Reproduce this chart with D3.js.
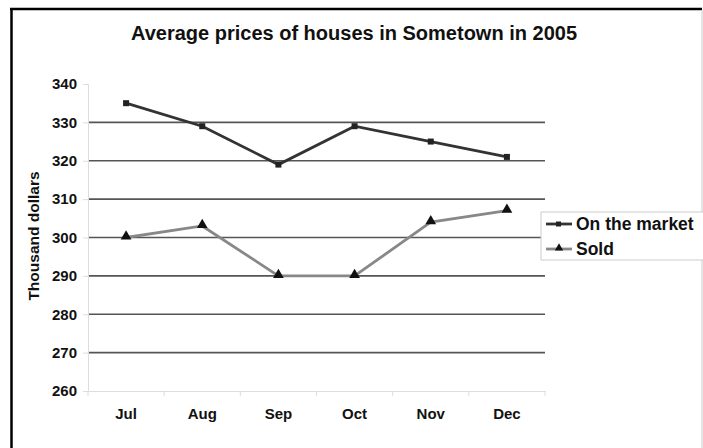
<!DOCTYPE html>
<html>
<head>
<meta charset="utf-8">
<script src="https://cdn.jsdelivr.net/npm/d3@7"></script>
<style>
  body { margin: 0; background: #fff; }
  text { font-family: "Liberation Sans", Arial, sans-serif; font-weight: bold; fill: #111; }
</style>
</head>
<body>
<div id="chart"></div>
<script>
const months = ["Jul", "Aug", "Sep", "Oct", "Nov", "Dec"];
const onMarket = [335, 329, 319, 329, 325, 321];
const sold = [300, 303, 290, 290, 304, 307];
const yTicks = [260, 270, 280, 290, 300, 310, 320, 330, 340];

const W = 703, H = 448;
const margin = { top: 84, left: 88, right: 158, bottom: 57 };
const width = W - margin.left - margin.right;   // plot width
const height = H - margin.top - margin.bottom;  // plot height

const svg = d3.select("#chart").append("svg")
    .attr("width", W)
    .attr("height", H);

// outer frame (black top/left, faint right)
svg.append("line").attr("x1", 10).attr("x2", 702).attr("y1", 9).attr("y2", 9)
    .attr("stroke", "#000").attr("stroke-width", 2.5);
svg.append("line").attr("x1", 11.5).attr("x2", 11.5).attr("y1", 8).attr("y2", H)
    .attr("stroke", "#000").attr("stroke-width", 2.5);
svg.append("line").attr("x1", 702).attr("x2", 702).attr("y1", 10).attr("y2", H)
    .attr("stroke", "#ccc").attr("stroke-width", 1);

svg.append("text")
    .attr("x", 354).attr("y", 40)
    .attr("text-anchor", "middle")
    .style("font-size", "20px")
    .text("Average prices of houses in Sometown in 2005");

// y axis title
svg.append("text")
    .attr("transform", "translate(39,236) rotate(-90)")
    .attr("text-anchor", "middle")
    .style("font-size", "15.5px")
    .text("Thousand dollars");

const g = svg.append("g").attr("transform", `translate(${margin.left},${margin.top})`);

const x = d3.scaleBand().domain(months).range([0, width]);
const y = d3.scaleLinear().domain([260, 340]).range([height, 0]);

// gridlines
g.selectAll(".grid")
    .data(yTicks.filter(d => d > 260 && d < 340))
    .enter().append("line")
    .attr("x1", 0).attr("x2", width)
    .attr("y1", d => y(d)).attr("y2", d => y(d))
    .attr("stroke", "#555").attr("stroke-width", 1.6);

const fontAxis = sel => sel.style("font-size", "15px")
    .style("font-family", "Liberation Sans, Arial, sans-serif")
    .style("font-weight", "bold").attr("fill", "#111");

// y axis
const yAxis = g.append("g")
    .call(d3.axisLeft(y).tickValues(yTicks).tickSize(5).tickPadding(6));
yAxis.select(".domain").attr("stroke", "#ddd");
yAxis.selectAll(".tick line").attr("stroke", "#ddd");
yAxis.selectAll(".tick text").call(fontAxis);

// x axis
const xAxis = g.append("g")
    .attr("transform", `translate(0,${height})`)
    .call(d3.axisBottom(x).tickSize(0).tickPadding(17));
xAxis.select(".domain").attr("stroke", "#ddd");
xAxis.selectAll(".tick text").call(fontAxis);
// category boundary ticks
g.selectAll(".xb")
    .data(months.concat(["_end"]))
    .enter().append("line")
    .attr("x1", (d, i) => i * x.step()).attr("x2", (d, i) => i * x.step())
    .attr("y1", height).attr("y2", height + 5)
    .attr("stroke", "#ddd");

const cx = (d, i) => x(months[i]) + x.bandwidth() / 2;
const line = d3.line().x(cx).y(d => y(d));

g.append("path").datum(sold)
    .attr("d", line).attr("fill", "none")
    .attr("stroke", "#888").attr("stroke-width", 2.8);
g.append("path").datum(onMarket)
    .attr("d", line).attr("fill", "none")
    .attr("stroke", "#333").attr("stroke-width", 2.8);

const tri = d3.symbol().type(d3.symbolTriangle).size(50);
g.selectAll(".soldPt").data(sold).enter().append("path")
    .attr("d", tri)
    .attr("transform", (d, i) => `translate(${cx(d, i)},${y(d) - 1})`)
    .attr("fill", "#111");

g.selectAll(".mktPt").data(onMarket).enter().append("rect")
    .attr("x", (d, i) => cx(d, i) - 3).attr("y", d => y(d) - 3)
    .attr("width", 6).attr("height", 6)
    .attr("fill", "#222");

// legend
const lg = svg.append("g").attr("transform", "translate(541,212)");
lg.append("rect").attr("width", 163).attr("height", 48)
    .attr("fill", "#fff").attr("stroke", "#ccc");
const items = [
  { name: "On the market", color: "#333", mark: "sq" },
  { name: "Sold", color: "#888", mark: "tri" }
];
items.forEach((it, i) => {
  const yy = 12 + i * 25;
  lg.append("line").attr("x1", 5).attr("x2", 31).attr("y1", yy).attr("y2", yy)
      .attr("stroke", it.color).attr("stroke-width", 2.8);
  if (it.mark === "sq") {
    lg.append("rect").attr("x", 15).attr("y", yy - 2.5).attr("width", 5).attr("height", 5).attr("fill", "#222");
  } else {
    lg.append("path").attr("d", d3.symbol().type(d3.symbolTriangle).size(30))
        .attr("transform", `translate(18,${yy - 1})`).attr("fill", "#111");
  }
  lg.append("text").attr("x", 35).attr("y", yy + 6)
      .style("font-size", "17.5px").text(it.name);
});
</script>
</body>
</html>
